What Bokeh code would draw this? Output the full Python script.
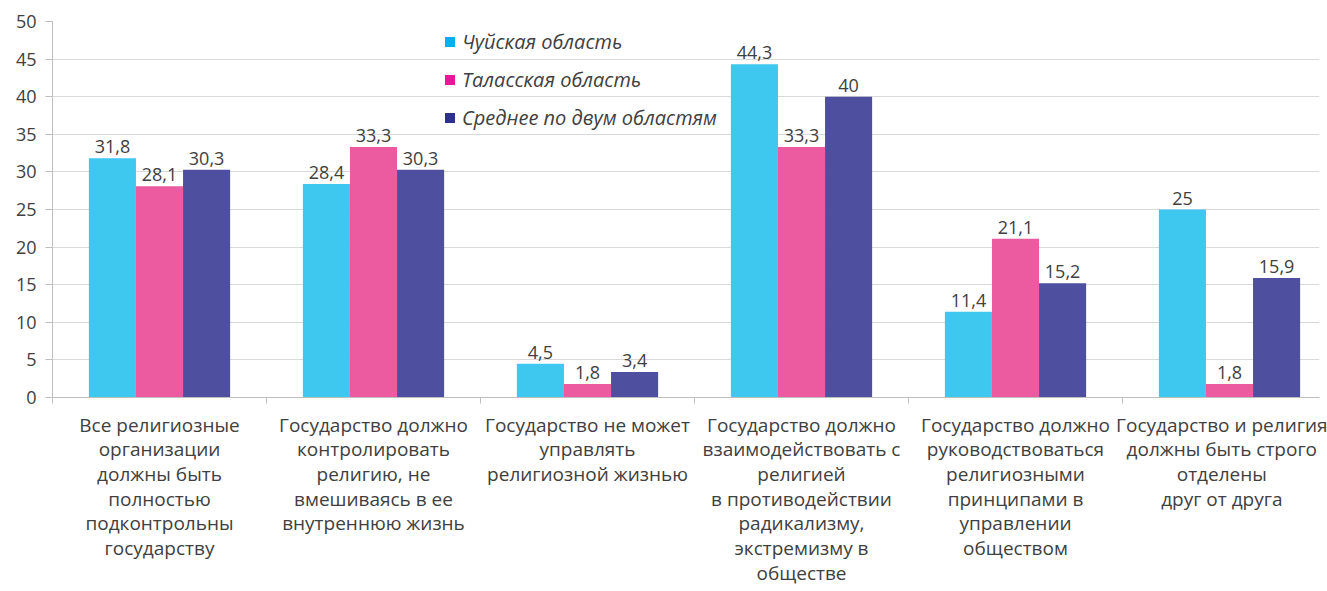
from bokeh.plotting import figure
from bokeh.models import ColumnDataSource, FixedTicker, Legend, LegendItem
from bokeh.core.properties import value
from bokeh.embed import file_html
from bokeh.resources import INLINE

categories = [
    "Все религиозные\nорганизации\nдолжны быть\nполностью\nподконтрольны\nгосударству",
    "Государство должно\nконтролировать\nрелигию, не\nвмешиваясь в ее\nвнутреннюю жизнь",
    "Государство не может\nуправлять\nрелигиозной жизнью",
    "Государство должно\nвзаимодействовать с\nрелигией\nв противодействии\nрадикализму,\nэкстремизму в\nобществе",
    "Государство должно\nруководствоваться\nрелигиозными\nпринципами в\nуправлении\nобществом",
    "Государство и религия\nдолжны быть строго\nотделены\nдруг от друга",
]
series_names = ["Чуйская область", "Таласская область", "Среднее по двум областям"]
chui = [31.8, 28.4, 4.5, 44.3, 11.4, 25]
talas = [28.1, 33.3, 1.8, 33.3, 21.1, 1.8]
avg = [30.3, 30.3, 3.4, 40, 15.2, 15.9]
y_ticks = [0, 5, 10, 15, 20, 25, 30, 35, 40, 45, 50]

bar_colors = ["#3EC8F0", "#EC5AA0", "#4F4FA0"]
legend_colors = ["#00B0F0", "#F0149A", "#2E3192"]
FONT = "Open Sans"

p = figure(width=1327, height=591, output_backend="svg", toolbar_location=None,
           x_range=(0, 1267 / 214.0), y_range=(0, 50),
           min_border_left=52, min_border_right=8, min_border_top=21, min_border_bottom=194)
p.outline_line_color = None
p.background_fill_color = "white"

centers = [i + 0.5 for i in range(len(categories))]
offsets = [-0.22, 0.0, 0.22]
bw = 0.22
items = []
for s, (vals, off, col, lcol, name) in enumerate(zip([chui, talas, avg], offsets, bar_colors,
                                                     legend_colors, series_names)):
    xs = [c + off for c in centers]
    src = ColumnDataSource(dict(x=xs, top=vals,
                                lab=[("%g" % v).replace(".", ",") for v in vals]))
    p.vbar(x="x", top="top", width=bw, source=src, fill_color=col, line_color=None)
    p.text(x="x", y="top", text="lab", source=src, text_align="center",
           text_baseline="bottom", y_offset=-5, text_font=value(FONT),
           text_font_size="18px", text_color="#404040")
    # zero-size markers on the data points, only used for the legend swatch colour
    r = p.scatter(x="x", y="top", source=src, marker="square", size=0,
                  fill_color=lcol, line_color=None)
    items.append(LegendItem(label=name, renderers=[r]))

leg = Legend(items=items, location=(381, 262), background_fill_alpha=0,
             border_line_alpha=0, label_text_font=FONT, label_text_font_style="italic",
             label_text_font_size="20px", label_text_color="#404040",
             glyph_width=25, glyph_height=25, label_height=28, spacing=10,
             label_standoff=0, padding=4, margin=0)
p.add_layout(leg, "center")

# axes
p.yaxis.ticker = FixedTicker(ticks=y_ticks)
p.yaxis.axis_line_color = "#BFBFBF"
p.yaxis.major_tick_line_color = "#BFBFBF"
p.yaxis.major_tick_out = 7
p.yaxis.major_tick_in = 0
p.yaxis.minor_tick_line_color = None
p.yaxis.major_label_text_font = FONT
p.yaxis.major_label_text_font_size = "18px"
p.yaxis.major_label_text_color = "#404040"
p.yaxis.major_label_standoff = 9

p.xaxis.ticker = FixedTicker(ticks=centers, minor_ticks=list(range(len(categories) + 1)))
p.xaxis.major_label_overrides = {c: lab for c, lab in zip(centers, categories)}
p.xaxis.axis_line_color = "#BFBFBF"
p.xaxis.major_tick_line_color = None
p.xaxis.minor_tick_line_color = "#BFBFBF"
p.xaxis.minor_tick_out = 6
p.xaxis.minor_tick_in = 0
p.xaxis.major_label_text_font = FONT
p.xaxis.major_label_text_font_size = "19px"
p.xaxis.major_label_text_color = "#404040"
p.xaxis.major_label_text_line_height = 0.95
p.xaxis.major_label_standoff = 8

p.xgrid.grid_line_color = None
p.ygrid.grid_line_color = "#D9D9D9"
p.ygrid.ticker = FixedTicker(ticks=y_ticks)

open("out.html", "w").write(file_html(p, INLINE))
